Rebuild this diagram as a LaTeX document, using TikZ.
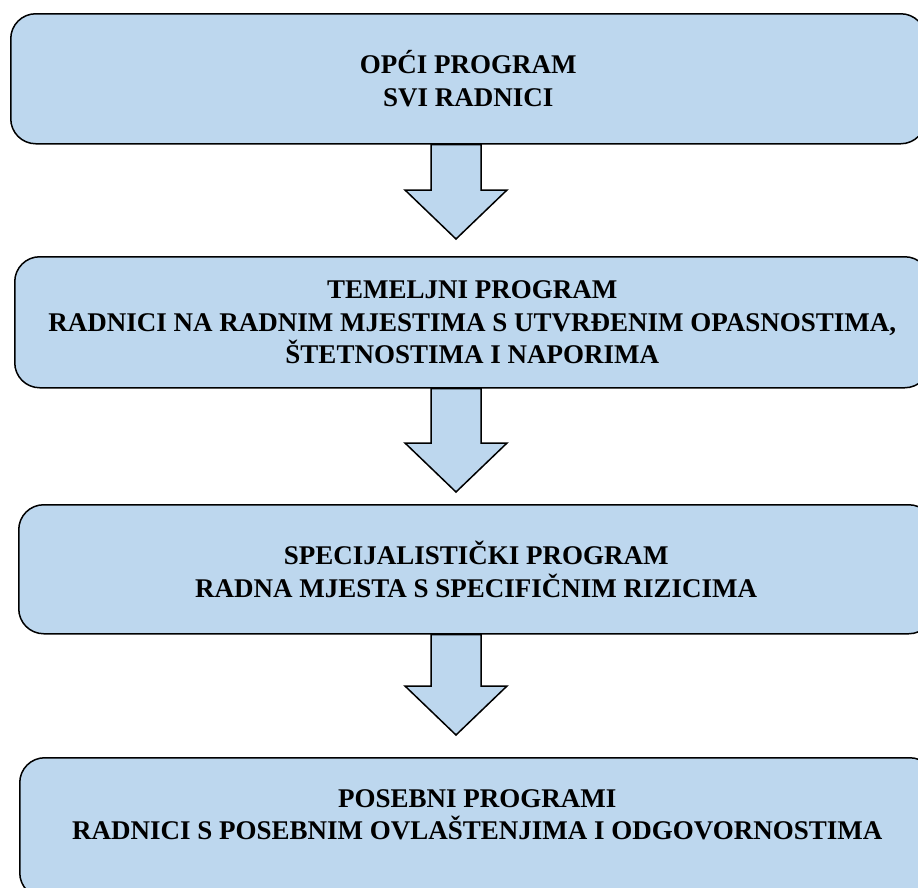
\documentclass[tikz,border=0pt]{standalone}
\usepackage{fontspec}
\setmainfont{Liberation Serif}
\usepackage{tikz}
\usetikzlibrary{calc}

\definecolor{progblue}{RGB}{189,215,238}

\tikzset{
  progbox/.style={draw=black, line width=1.5pt, rounded corners=25pt, fill=progblue,
    align=center, anchor=north west, minimum width=915pt, inner sep=0pt,
    font=\fontsize{27}{32.5}\selectfont\bfseries},
  downarrow/.style={draw=black, line width=1.5pt, fill=progblue, line join=miter}
}

\begin{document}
\begin{tikzpicture}[x=1pt,y=-1pt]
\clip (0,0) rectangle (918,887);

% Opci program (top)
\node[progbox, minimum height=130pt] (opci) at (10,13) {OPĆI PROGRAM\\SVI RADNICI};

% Temeljni program
\node[progbox, minimum height=131pt] (temeljni) at (14,256) {TEMELJNI PROGRAM\\RADNICI NA RADNIM MJESTIMA S UTVRĐENIM OPASNOSTIMA,\\ŠTETNOSTIMA I NAPORIMA};

% Specijalisticki program
\node[progbox, minimum height=129pt] (spec) at (18,504) {SPECIJALISTIČKI PROGRAM\\RADNA MJESTA S SPECIFIČNIM RIZICIMA};

% Posebni programi (bottom, runs off the page)
\node[progbox, minimum height=140pt, text depth=26pt] (posebni) at (19,757) {POSEBNI PROGRAMI\\RADNICI S POSEBNIM OVLAŠTENJIMA I ODGOVORNOSTIMA};

% block arrows between the boxes
\foreach \a/\b/\g in {opci/temeljni/17pt, temeljni/spec/12pt, spec/posebni/22pt}{
  \draw[downarrow] let \p1=(\a.south), \p2=(\b.north) in
    (431pt,\y1) -- (481pt,\y1) -- (481pt,\y2+\g+49pt) -- (507pt,\y2+\g+49pt)
    -- (456pt,\y2+\g) -- (405pt,\y2+\g+49pt) -- (431pt,\y2+\g+49pt) -- cycle;
}

\end{tikzpicture}
\end{document}
